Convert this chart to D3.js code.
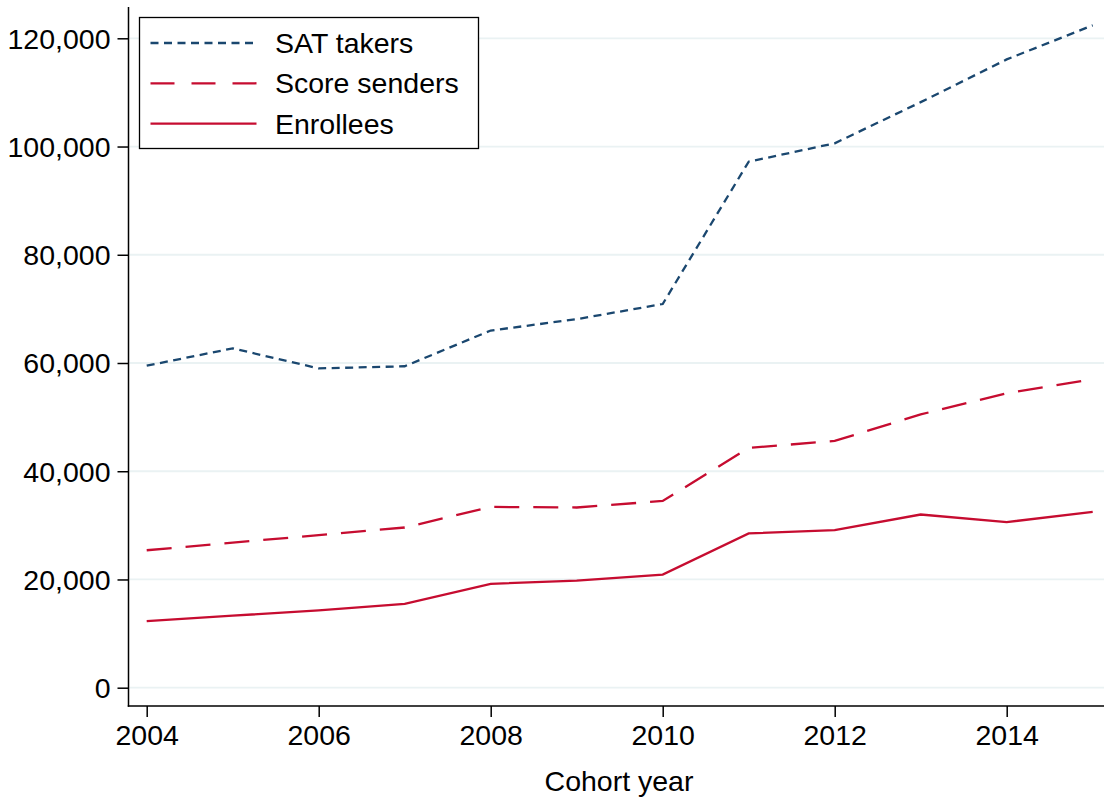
<!DOCTYPE html>
<html>
<head>
<meta charset="utf-8">
<script src="https://cdn.jsdelivr.net/npm/d3@7"></script>
<style>
  body { margin: 0; background: #fff; }
  svg { display: block; font-family: "Liberation Sans", Arial, Helvetica, sans-serif; }
</style>
</head>
<body>
<div id="chart"></div>
<script>
// data
var years = [2004, 2005, 2006, 2007, 2008, 2009, 2010, 2011, 2012, 2013, 2014, 2015];
var satTakers    = [59500, 62700, 59000, 59400, 66000, 68100, 70900, 97200, 100600, 108200, 116100, 122400];
var scoreSenders = [25400, 26800, 28200, 29600, 33400, 33300, 34500, 44300, 45600, 50500, 54400, 57000];
var enrollees    = [12300, 13300, 14300, 15500, 19200, 19800, 20900, 28500, 29100, 32000, 30600, 32500];
var yTicks = [0, 20000, 40000, 60000, 80000, 100000, 120000];
var xTicks = [2004, 2006, 2008, 2010, 2012, 2014];
var seriesNames = ["SAT takers", "Score senders", "Enrollees"];

var width = 1104,
    height = 806,
    axisX = 128.5,
    axisY = 706,
    axisTop = 7,
    fontSize = 28.5,
    tickLen = 11;

var styles = [
  {color: "#1a476f", dash: "8,5.5"},
  {color: "#c60c30", dash: "25,14"},
  {color: "#c60c30", dash: null}
];
var seriesData = [satTakers, scoreSenders, enrollees];

var x = d3.scaleLinear().domain([2004, 2015]).range([146.7, 1092.7]);
var y = d3.scaleLinear().domain([0, 120000]).range([687.7, 38.3]);

var svg = d3.select('#chart')
  .append('svg')
  .attr('width', width)
  .attr('height', height);

// gridlines
svg.append('g')
  .selectAll('line')
  .data(yTicks)
  .enter()
  .append('line')
  .attr('x1', axisX + 1)
  .attr('x2', width)
  .attr('y1', function(d) { return y(d); })
  .attr('y2', function(d) { return y(d); })
  .attr('stroke', '#eaf2f3')
  .attr('stroke-width', 1.8);

// y axis
var yAxis = svg.append('g')
  .attr('transform', 'translate(' + axisX + ',0)')
  .call(d3.axisLeft(y).tickValues(yTicks).tickFormat(d3.format(',')).tickSize(tickLen).tickPadding(7));
yAxis.select('.domain').remove();
yAxis.selectAll('.tick line').attr('stroke', '#000').attr('stroke-width', 1.5);
yAxis.selectAll('.tick text')
  .attr('font-size', fontSize)
  .attr('font-family', '"Liberation Sans", Arial, sans-serif')
  .attr('fill', '#000')
  .attr('dy', '0.35em');
svg.append('line')
  .attr('x1', axisX).attr('x2', axisX)
  .attr('y1', axisTop).attr('y2', axisY + 0.75)
  .attr('stroke', '#000').attr('stroke-width', 1.5);

// x axis
var xAxis = svg.append('g')
  .attr('transform', 'translate(0,' + axisY + ')')
  .call(d3.axisBottom(x).tickValues(xTicks).tickFormat(d3.format('d')).tickSize(tickLen).tickPadding(8));
xAxis.select('.domain').remove();
xAxis.selectAll('.tick line').attr('stroke', '#000').attr('stroke-width', 1.5);
xAxis.selectAll('.tick text')
  .attr('font-size', fontSize)
  .attr('font-family', '"Liberation Sans", Arial, sans-serif')
  .attr('fill', '#000');
svg.append('line')
  .attr('x1', axisX - 0.75).attr('x2', width)
  .attr('y1', axisY).attr('y2', axisY)
  .attr('stroke', '#000').attr('stroke-width', 1.5);

svg.append('text')
  .attr('x', 619)
  .attr('y', 791)
  .attr('text-anchor', 'middle')
  .attr('font-size', fontSize)
  .text('Cohort year');

// lines
var line = d3.line()
  .x(function(d, i) { return x(years[i]); })
  .y(function(d) { return y(d); });

svg.append('g')
  .selectAll('path')
  .data(seriesData)
  .enter()
  .append('path')
  .attr('d', line)
  .attr('fill', 'none')
  .attr('stroke', function(d, i) { return styles[i].color; })
  .attr('stroke-width', 2.3)
  .attr('stroke-dasharray', function(d, i) { return styles[i].dash; });

// legend
var legend = svg.append('g').attr('transform', 'translate(139.5,17.5)');
legend.append('rect')
  .attr('width', 339)
  .attr('height', 131)
  .attr('fill', '#fff')
  .attr('stroke', '#000')
  .attr('stroke-width', 1.3);

var item = legend.selectAll('g.item')
  .data(seriesNames)
  .enter()
  .append('g')
  .attr('class', 'item')
  .attr('transform', function(d, i) { return 'translate(0,' + (25.5 + i * 40.3) + ')'; });

item.append('line')
  .attr('x1', 11).attr('x2', 117)
  .attr('y1', 0).attr('y2', 0)
  .attr('stroke', function(d, i) { return styles[i].color; })
  .attr('stroke-width', 2.3)
  .attr('stroke-dasharray', function(d, i) { return i === 1 ? '24,17' : styles[i].dash; });

item.append('text')
  .attr('x', 135.5)
  .attr('y', 0)
  .attr('dy', '0.35em')
  .attr('font-size', fontSize)
  .text(function(d) { return d; });
</script>
</body>
</html>
